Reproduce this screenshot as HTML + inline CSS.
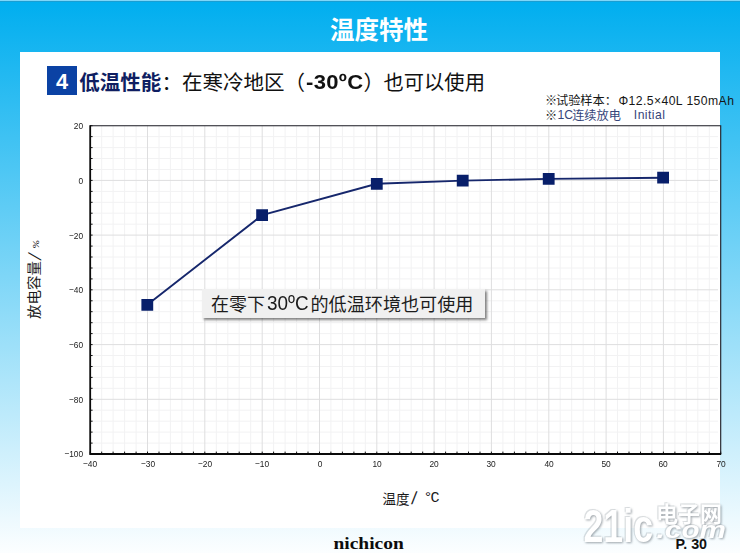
<!DOCTYPE html>
<html lang="zh">
<head>
<meta charset="utf-8">
<title>温度特性</title>
<style>
html,body{margin:0;padding:0;}
body{width:740px;height:553px;overflow:hidden;position:relative;font-family:"Liberation Sans",sans-serif;
background:linear-gradient(180deg,#7fd6f8 0,#7fd6f8 1px,#1a9ed2 1px,#1a9ed2 2px,rgba(0,0,0,0) 2px),linear-gradient(180deg,#00aeef 0%,#fcfeff 100%);}
.panel{position:absolute;left:20px;top:52px;width:699.8px;height:476px;background:#fff;}
svg{position:absolute;left:0;top:0;width:740px;height:553px;overflow:visible;}
svg text{font-family:"Liberation Sans","Noto Sans CJK SC",sans-serif;}
.t{position:absolute;white-space:nowrap;line-height:1;}
.badge{position:absolute;left:47.1px;top:65.9px;width:29.8px;height:28.8px;background:#0b42a4;}
.badge span{position:absolute;left:0;width:100%;text-align:center;top:4.8px;font-size:21.8px;font-weight:bold;color:#fff;line-height:1;}
.xt{position:absolute;top:458.6px;width:30px;text-align:center;font-size:9.3px;line-height:10px;color:#222;letter-spacing:-0.1px;transform:scaleX(.9);}
.yt{position:absolute;left:52.9px;width:30px;text-align:right;font-size:9.3px;line-height:10px;color:#222;letter-spacing:-0.1px;transform-origin:100% 50%;transform:scaleX(.9);}
.note{position:absolute;left:202px;top:288.8px;width:283.3px;height:28.9px;background:#f0f0f0;box-shadow:2.2px 2.2px 2.5px rgba(0,0,0,.5);}
.wm{fill:#fff;filter:drop-shadow(1px 1px 1px rgba(90,100,110,.55)) drop-shadow(-0.5px -0.5px 0.5px rgba(120,130,140,.25));}
</style>
</head>
<body>
<div class="panel"></div>
<svg viewBox="0 0 740 553" role="img" aria-label="放电容量/% 对 温度/°C">
<rect x="90.2" y="125.7" width="630.5" height="328.3" fill="#fff"/>
<path d="M101.7 125.7V454M113.1 125.7V454M124.6 125.7V454M136.1 125.7V454M159 125.7V454M170.4 125.7V454M181.9 125.7V454M193.4 125.7V454M216.3 125.7V454M227.8 125.7V454M239.2 125.7V454M250.7 125.7V454M273.6 125.7V454M285.1 125.7V454M296.6 125.7V454M308 125.7V454M330.9 125.7V454M342.4 125.7V454M353.9 125.7V454M365.3 125.7V454M388.3 125.7V454M399.7 125.7V454M411.2 125.7V454M422.7 125.7V454M445.6 125.7V454M457 125.7V454M468.5 125.7V454M480 125.7V454M502.9 125.7V454M514.4 125.7V454M525.8 125.7V454M537.3 125.7V454M560.2 125.7V454M571.7 125.7V454M583.2 125.7V454M594.6 125.7V454M617.5 125.7V454M629 125.7V454M640.5 125.7V454M651.9 125.7V454M674.9 125.7V454M686.3 125.7V454M697.8 125.7V454M709.3 125.7V454M90.2 136.6H718M90.2 147.6H718M90.2 158.5H718M90.2 169.5H718M90.2 191.4H718M90.2 202.3H718M90.2 213.2H718M90.2 224.2H718M90.2 246.1H718M90.2 257H718M90.2 268H718M90.2 278.9H718M90.2 300.8H718M90.2 311.7H718M90.2 322.7H718M90.2 333.6H718M90.2 355.5H718M90.2 366.5H718M90.2 377.4H718M90.2 388.3H718M90.2 410.2H718M90.2 421.2H718M90.2 432.1H718M90.2 443.1H718" stroke="#f2f2f3" stroke-width="1" fill="none"/>
<path d="M147.5 125.7V454M204.8 125.7V454M262.2 125.7V454M319.5 125.7V454M376.8 125.7V454M434.1 125.7V454M491.4 125.7V454M548.8 125.7V454M606.1 125.7V454M663.4 125.7V454M90.2 180.4H718M90.2 235.1H718M90.2 289.8H718M90.2 344.6H718M90.2 399.3H718" stroke="#dededf" stroke-width="1" fill="none"/>
<path d="M90.2 454v-2.4M101.7 454v-2.4M113.1 454v-2.4M124.6 454v-2.4M136.1 454v-2.4M147.5 454v-2.4M159 454v-2.4M170.4 454v-2.4M181.9 454v-2.4M193.4 454v-2.4M204.8 454v-2.4M216.3 454v-2.4M227.8 454v-2.4M239.2 454v-2.4M250.7 454v-2.4M262.2 454v-2.4M273.6 454v-2.4M285.1 454v-2.4M296.6 454v-2.4M308 454v-2.4M319.5 454v-2.4M330.9 454v-2.4M342.4 454v-2.4M353.9 454v-2.4M365.3 454v-2.4M376.8 454v-2.4M388.3 454v-2.4M399.7 454v-2.4M411.2 454v-2.4M422.7 454v-2.4M434.1 454v-2.4M445.6 454v-2.4M457 454v-2.4M468.5 454v-2.4M480 454v-2.4M491.4 454v-2.4M502.9 454v-2.4M514.4 454v-2.4M525.8 454v-2.4M537.3 454v-2.4M548.8 454v-2.4M560.2 454v-2.4M571.7 454v-2.4M583.2 454v-2.4M594.6 454v-2.4M606.1 454v-2.4M617.5 454v-2.4M629 454v-2.4M640.5 454v-2.4M651.9 454v-2.4M663.4 454v-2.4M674.9 454v-2.4M686.3 454v-2.4M697.8 454v-2.4M709.3 454v-2.4M720.7 454v-2.4M90.2 125.7h2.4M90.2 136.6h2.4M90.2 147.6h2.4M90.2 158.5h2.4M90.2 169.5h2.4M90.2 180.4h2.4M90.2 191.4h2.4M90.2 202.3h2.4M90.2 213.2h2.4M90.2 224.2h2.4M90.2 235.1h2.4M90.2 246.1h2.4M90.2 257h2.4M90.2 268h2.4M90.2 278.9h2.4M90.2 289.8h2.4M90.2 300.8h2.4M90.2 311.7h2.4M90.2 322.7h2.4M90.2 333.6h2.4M90.2 344.6h2.4M90.2 355.5h2.4M90.2 366.5h2.4M90.2 377.4h2.4M90.2 388.3h2.4M90.2 399.3h2.4M90.2 410.2h2.4M90.2 421.2h2.4M90.2 432.1h2.4M90.2 443.1h2.4M90.2 454h2.4" stroke="#111" stroke-width="1" fill="none"/>
<path d="M90.2 125.7H720.7V454" stroke="#1a1a22" stroke-width="1.1" fill="none"/>
<path d="M90.2 125.2V454H721.2" stroke="#0a0a0a" stroke-width="1.8" fill="none" stroke-linejoin="miter"/>
<polyline points="147.3,304.8 262.1,215.2 376.8,183.8 462.7,180.6 548.7,178.9 663.1,177.7" fill="none" stroke="#16276c" stroke-width="1.9"/>
<path d="M141.4 298.9h11.8v11.8h-11.8zM256.2 209.3h11.8v11.8h-11.8zM370.9 177.9h11.8v11.8h-11.8zM456.8 174.7h11.8v11.8h-11.8zM542.8 173h11.8v11.8h-11.8zM657.2 171.8h11.8v11.8h-11.8z" fill="#081f6a"/>
</svg>
<div class="note"></div>
<svg viewBox="0 0 740 553">
<text x="330" y="39" font-size="24.5" font-weight="bold" fill="#fff">温度特性</text>
<text x="79.2" y="89.5" font-size="20.5" font-weight="bold" fill="#0f1e62">低温性能</text>
<text x="161.5" y="89.5" font-size="20.5" fill="#111">：</text>
<text x="182" y="89.5" font-size="20.5" fill="#111">在寒冷地区</text>
<text x="284.5" y="89.5" font-size="20.5" fill="#111">（</text>
<text x="363.5" y="89.5" font-size="20.5" fill="#111">）</text>
<text x="383.5" y="89.5" font-size="20.3" fill="#111">也可以使用</text>
<text x="545" y="104.7" font-size="12.2" fill="#161616">※</text>
<text x="556" y="104.7" font-size="12.2" fill="#161616">试验样本</text>
<text x="604.8" y="104.7" font-size="12.2" fill="#161616">：</text>
<text x="545" y="119.6" font-size="12.2" fill="#1c1c22">※</text>
<text x="572.2" y="119.6" font-size="12.2" fill="#36457a">连续放电</text>
<text x="211" y="311" font-size="18" fill="#1c1c1c">在零下</text>
<text x="310.5" y="311" font-size="18.1" fill="#1c1c1c">的低温环境也可使用</text>
<text x="382.5" y="503.5" font-size="13.5" fill="#1a1a1a">温度</text>
<text x="0" y="0" font-size="14.5" fill="#1a1a1a" transform="translate(39.3 319.0) rotate(-90) scale(1 0.96)">放电容量</text>
<text x="333.5" y="549.1" font-size="17" font-weight="bold" fill="#0c0c0c" textLength="70.2" lengthAdjust="spacingAndGlyphs" style="font-family:'Liberation Serif',serif;">nichicon</text>
<g class="wm">
<text x="583.5" y="541.5" font-size="47" font-weight="bold" textLength="69.5" lengthAdjust="spacingAndGlyphs">21ic</text>
<text x="656" y="522" font-size="22" font-weight="bold">电子网</text>
<text x="656.6" y="538.3" font-size="24.5" font-weight="bold" font-style="italic" textLength="69.4" lengthAdjust="spacingAndGlyphs">.com</text>
</g>
</svg>
<div class="badge"><span>4</span></div>
<span class="t" id="h30" style="left:305.9px;top:71.7px;font-size:20.6px;font-weight:bold;color:#111;letter-spacing:0.3px;transform-origin:0 50%;transform:scaleX(1.07);">-30ºC</span>
<span class="t" id="n1" style="left:618.4px;top:94.8px;font-size:12.2px;color:#161616;letter-spacing:0.42px;">Φ12.5×40L 150mAh</span>
<span class="t" id="n2a" style="left:557.4px;top:109.3px;font-size:12.2px;color:#36457a;letter-spacing:0.2px;">1C</span>
<span class="t" id="n2b" style="left:633.8px;top:109.3px;font-size:12.2px;color:#36457a;letter-spacing:0.45px;">Initial</span>
<span class="t" id="a30" style="left:267.0px;top:293.4px;font-size:20px;color:#1c1c1c;letter-spacing:0px;transform-origin:0 50%;transform:scaleX(0.945);">30ºC</span>
<span class="t" id="xs" style="left:410.9px;top:489.9px;font-size:17.6px;color:#1a1a1a;"><span style="display:inline-block;transform-origin:0 85%;transform:skewX(-7deg);">/</span></span>
<span class="t" id="xu" style="left:423.4px;top:491.4px;font-size:15px;color:#1a1a1a;font-family:'Liberation Mono',monospace;letter-spacing:-1.9px;">°C</span>
<span class="t" id="ys" style="left:26.5px;top:260.5px;font-size:17.6px;color:#1a1a1a;transform-origin:0 0;transform:rotate(-90deg);"><span style="display:inline-block;transform-origin:0 85%;transform:skewX(-17deg);">/</span></span>
<span class="t" id="yu" style="left:32.1px;top:247.7px;font-size:9.6px;color:#1a1a1a;font-family:'Liberation Mono',monospace;transform-origin:0 0;transform:rotate(-90deg) scaleX(1.3);">%</span>
<span class="xt" style="left:75.2px">−40</span>
<span class="xt" style="left:132.5px">−30</span>
<span class="xt" style="left:189.8px">−20</span>
<span class="xt" style="left:247.2px">−10</span>
<span class="xt" style="left:304.5px">0</span>
<span class="xt" style="left:361.8px">10</span>
<span class="xt" style="left:419.1px">20</span>
<span class="xt" style="left:476.4px">30</span>
<span class="xt" style="left:533.8px">40</span>
<span class="xt" style="left:591.1px">50</span>
<span class="xt" style="left:648.4px">60</span>
<span class="xt" style="left:705.7px">70</span>
<span class="yt" style="top:121.2px">20</span>
<span class="yt" style="top:175.9px">0</span>
<span class="yt" style="top:230.6px">−20</span>
<span class="yt" style="top:285.3px">−40</span>
<span class="yt" style="top:340px">−60</span>
<span class="yt" style="top:394.7px">−80</span>
<span class="yt" style="top:449.4px">−100</span>
<span class="t" id="pg" style="left:675.5px;top:537.0px;font-size:14.3px;font-weight:bold;color:#111;">P. 30</span>
</body>
</html>
